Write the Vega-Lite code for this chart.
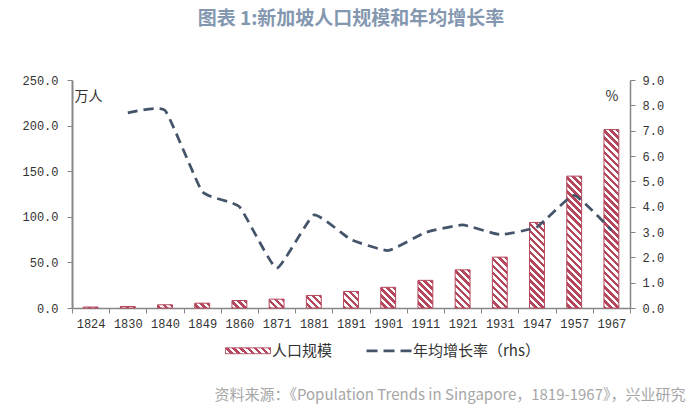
{
  "$schema": "https://vega.github.io/schema/vega-lite/v6.json",
  "width": 558,
  "height": 228,
  "autosize": {"type": "none"},
  "padding": {"left": 72, "top": 80, "right": 68, "bottom": 103},
  "background": "white",
  "params": [
    {"name": "stripes", "value": [
      {"offset": 0, "color": "#b4475c"}, {"offset": 0.01667, "color": "#b4475c"}, {"offset": 0.01667, "color": "#fff"}, {"offset": 0.03333, "color": "#fff"},
      {"offset": 0.03333, "color": "#b4475c"}, {"offset": 0.05, "color": "#b4475c"}, {"offset": 0.05, "color": "#fff"}, {"offset": 0.06667, "color": "#fff"},
      {"offset": 0.06667, "color": "#b4475c"}, {"offset": 0.08333, "color": "#b4475c"}, {"offset": 0.08333, "color": "#fff"}, {"offset": 0.1, "color": "#fff"},
      {"offset": 0.1, "color": "#b4475c"}, {"offset": 0.11667, "color": "#b4475c"}, {"offset": 0.11667, "color": "#fff"}, {"offset": 0.13333, "color": "#fff"},
      {"offset": 0.13333, "color": "#b4475c"}, {"offset": 0.15, "color": "#b4475c"}, {"offset": 0.15, "color": "#fff"}, {"offset": 0.16667, "color": "#fff"},
      {"offset": 0.16667, "color": "#b4475c"}, {"offset": 0.18333, "color": "#b4475c"}, {"offset": 0.18333, "color": "#fff"}, {"offset": 0.2, "color": "#fff"},
      {"offset": 0.2, "color": "#b4475c"}, {"offset": 0.21667, "color": "#b4475c"}, {"offset": 0.21667, "color": "#fff"}, {"offset": 0.23333, "color": "#fff"},
      {"offset": 0.23333, "color": "#b4475c"}, {"offset": 0.25, "color": "#b4475c"}, {"offset": 0.25, "color": "#fff"}, {"offset": 0.26667, "color": "#fff"},
      {"offset": 0.26667, "color": "#b4475c"}, {"offset": 0.28333, "color": "#b4475c"}, {"offset": 0.28333, "color": "#fff"}, {"offset": 0.3, "color": "#fff"},
      {"offset": 0.3, "color": "#b4475c"}, {"offset": 0.31667, "color": "#b4475c"}, {"offset": 0.31667, "color": "#fff"}, {"offset": 0.33333, "color": "#fff"},
      {"offset": 0.33333, "color": "#b4475c"}, {"offset": 0.35, "color": "#b4475c"}, {"offset": 0.35, "color": "#fff"}, {"offset": 0.36667, "color": "#fff"},
      {"offset": 0.36667, "color": "#b4475c"}, {"offset": 0.38333, "color": "#b4475c"}, {"offset": 0.38333, "color": "#fff"}, {"offset": 0.4, "color": "#fff"},
      {"offset": 0.4, "color": "#b4475c"}, {"offset": 0.41667, "color": "#b4475c"}, {"offset": 0.41667, "color": "#fff"}, {"offset": 0.43333, "color": "#fff"},
      {"offset": 0.43333, "color": "#b4475c"}, {"offset": 0.45, "color": "#b4475c"}, {"offset": 0.45, "color": "#fff"}, {"offset": 0.46667, "color": "#fff"},
      {"offset": 0.46667, "color": "#b4475c"}, {"offset": 0.48333, "color": "#b4475c"}, {"offset": 0.48333, "color": "#fff"}, {"offset": 0.5, "color": "#fff"},
      {"offset": 0.5, "color": "#b4475c"}, {"offset": 0.51667, "color": "#b4475c"}, {"offset": 0.51667, "color": "#fff"}, {"offset": 0.53333, "color": "#fff"},
      {"offset": 0.53333, "color": "#b4475c"}, {"offset": 0.55, "color": "#b4475c"}, {"offset": 0.55, "color": "#fff"}, {"offset": 0.56667, "color": "#fff"},
      {"offset": 0.56667, "color": "#b4475c"}, {"offset": 0.58333, "color": "#b4475c"}, {"offset": 0.58333, "color": "#fff"}, {"offset": 0.6, "color": "#fff"},
      {"offset": 0.6, "color": "#b4475c"}, {"offset": 0.61667, "color": "#b4475c"}, {"offset": 0.61667, "color": "#fff"}, {"offset": 0.63333, "color": "#fff"},
      {"offset": 0.63333, "color": "#b4475c"}, {"offset": 0.65, "color": "#b4475c"}, {"offset": 0.65, "color": "#fff"}, {"offset": 0.66667, "color": "#fff"},
      {"offset": 0.66667, "color": "#b4475c"}, {"offset": 0.68333, "color": "#b4475c"}, {"offset": 0.68333, "color": "#fff"}, {"offset": 0.7, "color": "#fff"},
      {"offset": 0.7, "color": "#b4475c"}, {"offset": 0.71667, "color": "#b4475c"}, {"offset": 0.71667, "color": "#fff"}, {"offset": 0.73333, "color": "#fff"},
      {"offset": 0.73333, "color": "#b4475c"}, {"offset": 0.75, "color": "#b4475c"}, {"offset": 0.75, "color": "#fff"}, {"offset": 0.76667, "color": "#fff"},
      {"offset": 0.76667, "color": "#b4475c"}, {"offset": 0.78333, "color": "#b4475c"}, {"offset": 0.78333, "color": "#fff"}, {"offset": 0.8, "color": "#fff"},
      {"offset": 0.8, "color": "#b4475c"}, {"offset": 0.81667, "color": "#b4475c"}, {"offset": 0.81667, "color": "#fff"}, {"offset": 0.83333, "color": "#fff"},
      {"offset": 0.83333, "color": "#b4475c"}, {"offset": 0.85, "color": "#b4475c"}, {"offset": 0.85, "color": "#fff"}, {"offset": 0.86667, "color": "#fff"},
      {"offset": 0.86667, "color": "#b4475c"}, {"offset": 0.88333, "color": "#b4475c"}, {"offset": 0.88333, "color": "#fff"}, {"offset": 0.9, "color": "#fff"},
      {"offset": 0.9, "color": "#b4475c"}, {"offset": 0.91667, "color": "#b4475c"}, {"offset": 0.91667, "color": "#fff"}, {"offset": 0.93333, "color": "#fff"},
      {"offset": 0.93333, "color": "#b4475c"}, {"offset": 0.95, "color": "#b4475c"}, {"offset": 0.95, "color": "#fff"}, {"offset": 0.96667, "color": "#fff"},
      {"offset": 0.96667, "color": "#b4475c"}, {"offset": 0.98333, "color": "#b4475c"}, {"offset": 0.98333, "color": "#fff"}, {"offset": 1, "color": "#fff"}
    ]}
  ],
  "title": {
    "text": "图表 1:新加坡人口规模和年均增长率",
    "font": "Noto Sans CJK SC",
    "fontSize": 19,
    "fontWeight": "bold",
    "color": "#8497b0",
    "anchor": "middle",
    "offset": 45
  },
  "config": {
    "view": {"stroke": null},
    "axis": {"grid": false}
  },
  "data": {
    "values": [
      {"year": "1824", "pop": 1.07, "rate": null},
      {"year": "1830", "pop": 1.66, "rate": 7.7},
      {"year": "1840", "pop": 3.54, "rate": 7.8},
      {"year": "1849", "pop": 5.29, "rate": 4.6},
      {"year": "1860", "pop": 8.17, "rate": 4.0},
      {"year": "1871", "pop": 9.71, "rate": 1.57},
      {"year": "1881", "pop": 13.77, "rate": 3.67},
      {"year": "1891", "pop": 18.16, "rate": 2.7},
      {"year": "1901", "pop": 22.68, "rate": 2.27},
      {"year": "1911", "pop": 30.33, "rate": 2.98},
      {"year": "1921", "pop": 41.84, "rate": 3.28},
      {"year": "1931", "pop": 55.77, "rate": 2.9},
      {"year": "1947", "pop": 93.81, "rate": 3.2},
      {"year": "1957", "pop": 144.59, "rate": 4.45},
      {"year": "1967", "pop": 195.6, "rate": 3.07}
    ]
  },
  "encoding": {
    "x": {
      "field": "year",
      "type": "ordinal",
      "sort": null,
      "scale": {"paddingInner": 0, "paddingOuter": 0},
      "axis": {
        "title": "资料来源：《Population Trends in Singapore，1819-1967》，兴业研究",
        "titleFont": "Noto Sans CJK SC",
        "titleFontSize": 15,
        "titleFontWeight": "normal",
        "titleColor": "#a6a6a6",
        "titleX": 613,
        "titleY": 86,
        "titleAlign": "right",
        "titleBaseline": "middle",
        "labelAngle": 0,
        "labelFont": "Liberation Mono",
        "labelFontSize": 12,
        "labelColor": "#333333",
        "labelPadding": 5,
        "tickBand": "extent",
        "tickSize": 5,
        "tickColor": "#868686",
        "domainColor": "#868686",
        "domainWidth": 1.5
      }
    }
  },
  "layer": [
    {
      "mark": {
        "type": "bar",
        "width": {"band": 0.4},
        "strokeWidth": 1,
        "fill": {"expr": "{gradient:'linear',x1:1,y1:0,x2:1-212.13*14.88/(221.4+pow(datum.pop*0.912,2)),y2:212.13*datum.pop*0.912/(221.4+pow(datum.pop*0.912,2)),stops:stripes}"}
      },
      "encoding": {
        "y": {
          "field": "pop",
          "type": "quantitative",
          "scale": {"domain": [0, 250], "nice": false},
          "axis": {
            "title": "万人",
            "titleAngle": 0,
            "titleX": 2,
            "titleY": 16,
            "titleAlign": "left",
            "titleBaseline": "middle",
            "titleFont": "Noto Sans CJK SC",
            "titleFontSize": 14,
            "titleFontWeight": "normal",
            "titleColor": "#333333",
            "values": [0, 50, 100, 150, 200, 250],
            "format": ".1f",
            "labelFont": "Liberation Mono",
            "labelFontSize": 12,
            "labelColor": "#333333",
            "labelPadding": 9,
            "tickSize": 5,
            "tickColor": "#868686",
            "domainColor": "#868686",
            "domainWidth": 2
          }
        },
        "stroke": {
          "datum": "人口规模",
          "type": "nominal",
          "scale": {"domain": ["人口规模", "年均增长率（rhs）"], "range": ["#b4475c", "#44546a"]},
          "legend": {
            "orient": "none",
            "legendX": 153,
            "legendY": 263,
            "direction": "horizontal",
            "title": null,
            "symbolSize": 2025,
            "labelFont": "Noto Sans CJK SC",
            "labelFontSize": 15,
            "labelColor": "#333333",
            "labelOffset": 32,
            "columnPadding": 28,
            "encode": {
              "symbols": {
                "update": {
                  "shape": {"signal": "datum.value === '人口规模' ? 'M-0.31,-0.13H1.69V0.13H-0.31Z' : 'M-0.31,0H1.69'"},
                  "fill": {"signal": "datum.value === '人口规模' ? {gradient:'linear',x1:1,y1:0,x2:-3.63,y2:0.617,stops:stripes} : 'transparent'"},
                  "strokeDash": {"signal": "datum.value === '人口规模' ? [1,0] : [11,6]"},
                  "strokeWidth": {"signal": "datum.value === '人口规模' ? 1 : 2.75"},
                  "opacity": {"value": 1}
                }
              }
            }
          }
        }
      }
    },
    {
      "mark": {"type": "line", "interpolate": "cardinal", "tension": 0.6, "strokeDash": [10, 6], "strokeWidth": 2.75},
      "encoding": {
        "y": {
          "field": "rate",
          "type": "quantitative",
          "scale": {"domain": [0, 9], "nice": false},
          "axis": {
            "orient": "right",
            "title": "%",
            "titleAngle": 0,
            "titleX": -25,
            "titleY": 16,
            "titleAlign": "left",
            "titleBaseline": "middle",
            "titleFont": "Noto Sans CJK SC",
            "titleFontSize": 14,
            "titleFontWeight": "normal",
            "titleColor": "#333333",
            "values": [0, 1, 2, 3, 4, 5, 6, 7, 8, 9],
            "format": ".1f",
            "labelFont": "Liberation Mono",
            "labelFontSize": 12,
            "labelColor": "#333333",
            "labelPadding": 7,
            "tickSize": 5,
            "tickColor": "#868686",
            "domainColor": "#868686",
            "domainWidth": 1.5
          }
        },
        "stroke": {
          "datum": "年均增长率（rhs）",
          "type": "nominal",
          "legend": {
            "orient": "none",
            "legendX": 153,
            "legendY": 263,
            "direction": "horizontal",
            "title": null,
            "symbolSize": 2025,
            "labelFont": "Noto Sans CJK SC",
            "labelFontSize": 15,
            "labelColor": "#333333",
            "labelOffset": 32,
            "columnPadding": 28,
            "encode": {
              "symbols": {
                "update": {
                  "shape": {"signal": "datum.value === '人口规模' ? 'M-0.31,-0.13H1.69V0.13H-0.31Z' : 'M-0.31,0H1.69'"},
                  "fill": {"signal": "datum.value === '人口规模' ? {gradient:'linear',x1:1,y1:0,x2:-3.63,y2:0.617,stops:stripes} : 'transparent'"},
                  "strokeDash": {"signal": "datum.value === '人口规模' ? [1,0] : [11,6]"},
                  "strokeWidth": {"signal": "datum.value === '人口规模' ? 1 : 2.75"},
                  "opacity": {"value": 1}
                }
              }
            }
          }
        }
      }
    }
  ],
  "resolve": {"scale": {"y": "independent"}}
}
